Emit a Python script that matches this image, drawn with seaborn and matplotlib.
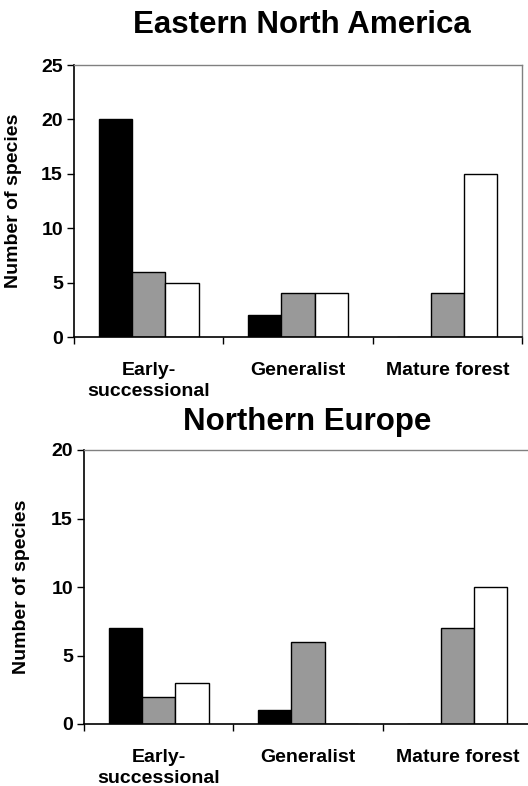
import matplotlib
matplotlib.use("Agg")
import matplotlib.pyplot as plt
import seaborn as sns
import pandas as pd
import numpy as np

categories = ["Early-\nsuccessional", "Generalist", "Mature forest"]
groups = ["A", "B", "C"]
na_values = {"A": [20, 2, 0], "B": [6, 4, 4], "C": [5, 4, 15]}
eu_values = {"A": [7, 1, 0], "B": [2, 6, 7], "C": [3, 0, 10]}
titles = ["Eastern North America", "Northern Europe"]
ylims = [25, 20]
colors = ["#000000", "#999999", "#ffffff"]

sns.set_theme(style="white")
plt.rcParams['font.family'] = ['Liberation Sans', 'DejaVu Sans']
plt.rcParams['text.color'] = 'black'
plt.rcParams['axes.labelcolor'] = 'black'
plt.rcParams['xtick.color'] = 'black'
plt.rcParams['ytick.color'] = 'black'

fig = plt.figure(figsize=(5.28, 7.86), dpi=100)
W, H = 528, 786

def make_df(vals):
    rows = []
    for g in groups:
        for c, v in zip(categories, vals[g]):
            rows.append({"cat": c, "grp": g, "val": v})
    return pd.DataFrame(rows)

specs = [
    dict(vals=na_values, left=74, right=522, top=65, bottom=337, title_x=302, title_y=33, ylab_x=22),
    dict(vals=eu_values, left=84, right=532, top=450, bottom=724, title_x=307, title_y=430, ylab_x=30),
]

for i, s in enumerate(specs):
    ax = fig.add_axes([s["left"] / W, 1 - s["bottom"] / H,
                       (s["right"] - s["left"]) / W, (s["bottom"] - s["top"]) / H])
    df = make_df(s["vals"])
    sns.barplot(data=df, x="cat", y="val", hue="grp", order=categories, hue_order=groups,
                palette=colors, edgecolor="black", linewidth=1.0, width=0.67,
                saturation=1, ax=ax, legend=False)
    ax.set_xlim(-0.5, 2.5)
    ax.set_ylim(0, ylims[i])
    ax.set_yticks(np.arange(0, ylims[i] + 1, 5))
    ax.set_xticks([-0.5, 0.5, 1.5, 2.5])
    ax.set_xticklabels([])
    ax.set_xticks([0, 1, 2], minor=True)
    ax.set_xticklabels(categories, minor=True, fontsize=14, fontweight="bold", va="top",
                       linespacing=1.3)
    ax.tick_params(axis="x", which="major", length=5, width=1, color="black", direction="out", bottom=True)
    ax.tick_params(axis="x", which="minor", length=0, pad=18)
    ax.tick_params(axis="y", length=5, width=1, color="black", direction="out", left=True,
                   labelsize=14, pad=3)
    for lab in ax.get_yticklabels():
        lab.set_fontweight("bold")
    ax.set_xlabel("")
    ax.set_ylabel("Number of species", fontsize=14, fontweight="bold")
    ax.yaxis.set_label_coords((s["ylab_x"] - s["left"]) / (s["right"] - s["left"]), 0.5)
    for side in ["left", "bottom"]:
        ax.spines[side].set_color("black")
        ax.spines[side].set_linewidth(1.2)
    for side in ["top", "right"]:
        ax.spines[side].set_color("#808080")
        ax.spines[side].set_linewidth(1.0)
    ax.grid(False)
    fig.text(s["title_x"] / W, 1 - s["title_y"] / H, titles[i], ha="center", va="baseline",
             fontsize=22.5, fontweight="bold")

fig.savefig("out.png", dpi=100)
